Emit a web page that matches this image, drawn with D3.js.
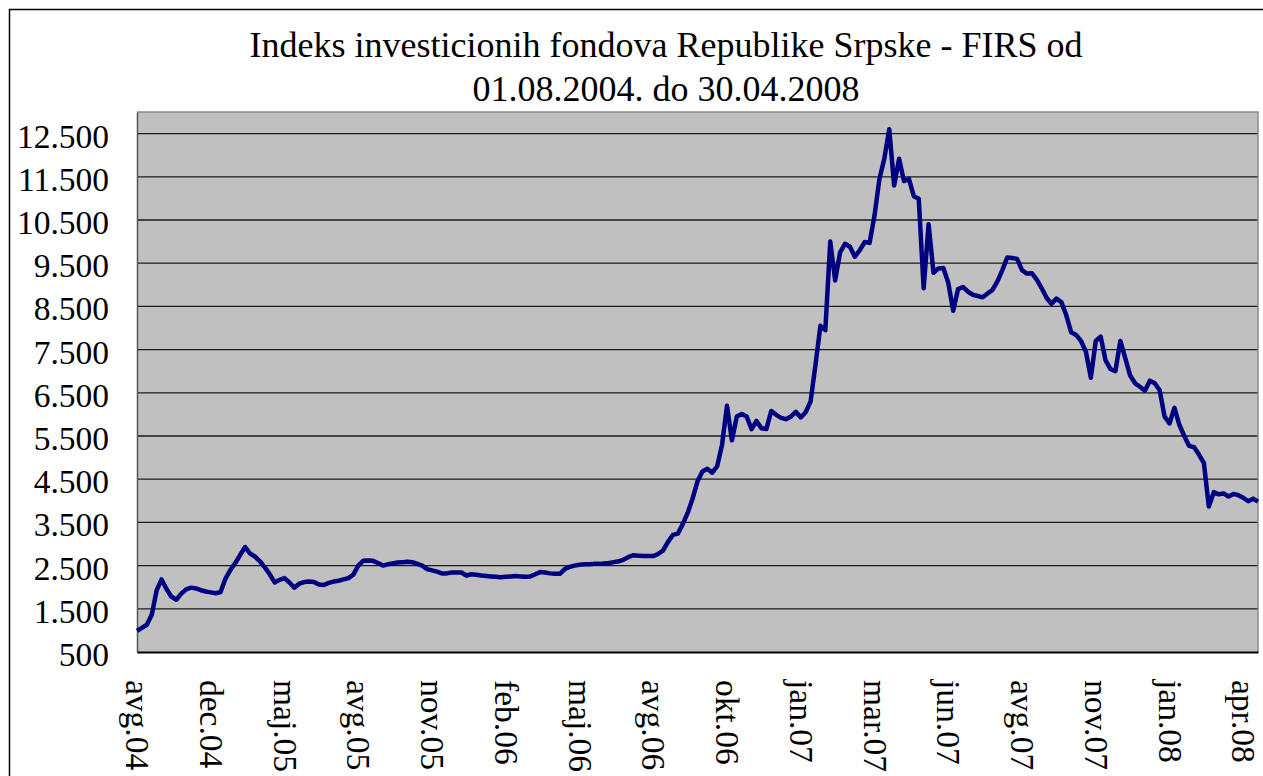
<!DOCTYPE html>
<html>
<head>
<meta charset="utf-8">
<script src="https://cdn.jsdelivr.net/npm/d3@7"></script>
<style>
  body { margin: 0; background: #fff; }
  svg text { font-family: "Times New Roman", "Liberation Serif", serif; fill: #000; }
</style>
</head>
<body>
<div id="chart"></div>
<script>
// title lines
var titleLines = [
    "Indeks investicionih fondova Republike Srpske - FIRS od",
    "01.08.2004. do 30.04.2008"
];

// category labels, one every labelEvery points
var categoryLabels = ["avg.04", "dec.04", "maj.05", "avg.05", "nov.05", "feb.06", "maj.06", "avg.06",
    "okt.06", "jan.07", "mar.07", "jun.07", "avg.07", "nov.07", "jan.08", "apr.08"];
var labelEvery = 15;

var yTicks = [500, 1500, 2500, 3500, 4500, 5500, 6500, 7500, 8500, 9500, 10500, 11500, 12500];
var yDomain = [500, 13000];

// FIRS index values
var firsValues = [
    990, 1060, 1130, 1360, 1930, 2180, 1960, 1780, 1710, 1850,
    1950, 1990, 1970, 1930, 1900, 1880, 1860, 1890, 2200, 2400,
    2560, 2750, 2930, 2780, 2710, 2600, 2460, 2300, 2110, 2170,
    2210, 2110, 1990, 2080, 2120, 2130, 2120, 2060, 2050, 2100,
    2130, 2150, 2180, 2210, 2290, 2500, 2610, 2620, 2610, 2560,
    2500, 2530, 2550, 2570, 2580, 2590, 2580, 2540, 2500, 2420,
    2390, 2360, 2320, 2320, 2340, 2340, 2340, 2270, 2300, 2290,
    2270, 2260, 2250, 2240, 2230, 2240, 2250, 2260, 2250, 2240,
    2250, 2300, 2350, 2340, 2320, 2310, 2310, 2420, 2470, 2500,
    2520, 2530, 2530, 2540, 2540, 2550, 2560, 2580, 2600, 2640,
    2700, 2740, 2730, 2720, 2720, 2720, 2770, 2850, 3050, 3210,
    3240, 3460, 3720, 4050, 4450, 4680, 4740, 4650, 4800, 5300,
    6200, 5400, 5950, 6010, 5950, 5660, 5850, 5680, 5660, 6080,
    5990, 5920, 5890, 5950, 6060, 5930, 6050, 6300, 7150, 8050,
    7950, 10000, 9100, 9750, 9950, 9880, 9650, 9800, 9990, 9970,
    10600, 11450, 11920, 12600, 11300, 11920, 11400, 11450, 11050, 10990,
    8920, 10400, 9280, 9380, 9390, 9050, 8400, 8900, 8950, 8840,
    8770, 8740, 8710, 8800, 8880, 9080, 9340, 9630, 9620, 9600,
    9340, 9260, 9270, 9120, 8920, 8700, 8560, 8680, 8600, 8300,
    7900, 7840, 7700, 7450, 6850, 7700, 7800, 7250, 7050, 7000,
    7700, 7300, 6900, 6720, 6640, 6550, 6780, 6720, 6560, 5950,
    5790, 6150, 5760, 5500, 5270, 5240, 5070, 4870, 3870, 4200,
    4150, 4170, 4100, 4160, 4130, 4070, 3990, 4050, 3980
];

var width = 1263, height = 776;
var margin = {top: 112, right: 5, bottom: 124, left: 137};
var plotW = width - margin.left - margin.right,
    plotH = height - margin.top - margin.bottom;

var svg = d3.select("#chart").append("svg")
    .attr("width", width)
    .attr("height", height);

// chart area frame (cut off on right and bottom)
svg.append("path")
    .attr("d", "M9.5," + height + "V9.5H" + width)
    .attr("fill", "none")
    .attr("stroke", "#000")
    .attr("stroke-width", 1.5);

svg.selectAll(".title")
    .data(titleLines)
    .enter().append("text")
    .attr("class", "title")
    .attr("x", 666)
    .attr("y", function(d, i) { return 57 + i * 44; })
    .attr("text-anchor", "middle")
    .style("font-size", "36px")
    .text(function(d) { return d; });

var x = d3.scaleLinear()
    .domain([0, firsValues.length - 1])
    .range([0, plotW]);

var y = d3.scaleLinear()
    .domain(yDomain)
    .range([plotH, 0]);

var g = svg.append("g")
    .attr("transform", "translate(" + margin.left + "," + margin.top + ")");

g.append("rect")
    .attr("width", plotW)
    .attr("height", plotH)
    .attr("fill", "#c0c0c0");

// gridlines
g.selectAll(".grid")
    .data(yTicks.slice(1))
    .enter().append("line")
    .attr("class", "grid")
    .attr("x1", 0)
    .attr("x2", plotW)
    .attr("y1", function(d) { return y(d); })
    .attr("y2", function(d) { return y(d); })
    .attr("stroke", "#1a1a1a")
    .attr("stroke-width", 1.3);

// top and right border of plot area
g.append("path")
    .attr("d", "M0,0H" + plotW + "V" + plotH)
    .attr("fill", "none")
    .attr("stroke", "#8c8c8c")
    .attr("stroke-width", 1.5);

var fmt = d3.formatLocale({decimal: ",", thousands: ".", grouping: [3], currency: ["", ""]}).format(",");

var yAxis = g.append("g")
    .call(d3.axisLeft(y).tickValues(yTicks).tickFormat(fmt).tickSize(0).tickPadding(28));
yAxis.select(".domain").attr("stroke", "#555").attr("stroke-width", 1.5);
yAxis.selectAll("text")
    .attr("dy", "0.4em")
    .style("font-size", "33.5px")
    .style("font-family", "'Times New Roman', 'Liberation Serif', serif");

var xAxis = g.append("g")
    .attr("transform", "translate(0," + plotH + ")")
    .call(d3.axisBottom(x)
        .tickValues(d3.range(0, categoryLabels.length * labelEvery, labelEvery))
        .tickFormat(function(d) { return categoryLabels[d / labelEvery]; })
        .tickSize(0));
xAxis.select(".domain").attr("stroke", "#000").attr("stroke-width", 2);
xAxis.selectAll("text")
    .attr("transform", "rotate(90)")
    .attr("x", 28)
    .attr("y", 0)
    .attr("dy", "0.34em")
    .attr("text-anchor", "start")
    .style("font-size", "33.5px")
    .style("font-family", "'Times New Roman', 'Liberation Serif', serif");

var line = d3.line()
    .x(function(d, i) { return x(i); })
    .y(function(d) { return y(d); });

g.append("path")
    .datum(firsValues)
    .attr("d", line)
    .attr("fill", "none")
    .attr("stroke", "#000080")
    .attr("stroke-width", 4.5)
    .attr("stroke-linejoin", "round");
</script>
</body>
</html>
